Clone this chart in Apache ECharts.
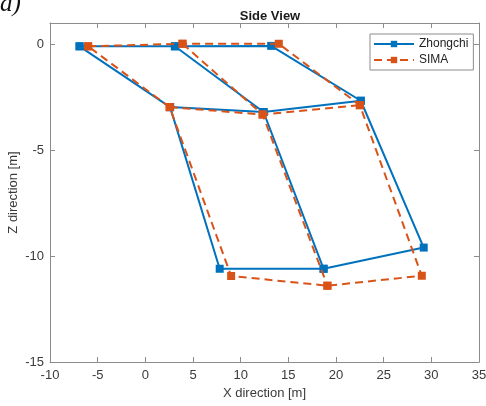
<!DOCTYPE html>
<html>
<head>
<meta charset="utf-8">
<script src="https://cdn.jsdelivr.net/npm/echarts@6/dist/echarts.min.js"></script>
<style>
html,body{margin:0;padding:0;background:#fff;}
#chart{width:486px;height:406px;}
</style>
</head>
<body>
<div id="chart"></div>
<script>
// Node order: TL, TM, TR, ML, MM, MR, BL, BM, BR
const nodeNames = ['TL','TM','TR','ML','MM','MR','BL','BM','BR'];
const zhongchiX = [-6.9, 3.1, 13.2, 2.6, 12.4, 22.6, 7.8, 18.7, 29.2];
const zhongchiZ = [-0.1, -0.1, -0.08, -2.97, -3.2, -2.67, -10.6, -10.6, -9.6];
const simaX = [-6.0, 3.9, 14.0, 2.55, 12.3, 22.5, 9.0, 19.1, 29.0];
const simaZ = [-0.1, 0.02, 0.02, -2.97, -3.32, -2.88, -10.94, -11.4, -10.93];
// Paths through the frame (indices into node arrays)
const paths = [
  [0, 1, 2, 5, 8, 7, 6, 3, 0],
  [1, 4, 7],
  [3, 4, 5]
];
const xTicks = [-10, 35, 5];   // min, max, interval
const zTicks = [-15, 1, 5];

function buildSeries(name, xs, zs, color, dashed) {
  return paths.map(p => ({
    name: name,
    type: 'line',
    data: p.map(i => [xs[i], zs[i]]),
    symbol: 'rect',
    symbolSize: 8,
    showSymbol: true,
    itemStyle: { color: color },
    lineStyle: { color: color, width: 2, type: dashed ? [8, 5] : 'solid' },
    emphasis: { disabled: true },
    animation: false,
    z: dashed ? 3 : 2
  }));
}

const axisColor = '#8c8c8c';
const labelColor = '#3a3a3a';
const font = 'Liberation Sans, Arial, sans-serif';

const chart = echarts.init(document.getElementById('chart'), null, { renderer: 'canvas' });
chart.setOption({
  backgroundColor: '#fff',
  animation: false,
  title: {
    text: 'Side View',
    left: 265, top: 5, textAlign: 'center',
    textStyle: { fontFamily: font, fontSize: 13, fontWeight: 'bold', color: '#1a1a1a' }
  },
  graphic: [{
    type: 'text', left: 0, top: -8,
    style: { text: 'a)', font: 'italic 25px "Liberation Serif", "DejaVu Serif", serif', fill: '#111' }
  }],
  legend: {
    orient: 'vertical',
    left: 370, top: 34,
    padding: [4, 5, 4, 3],
    itemGap: 4,
    itemWidth: 40, itemHeight: 8,
    backgroundColor: '#fff',
    borderColor: '#8c8c8c', borderWidth: 1,
    textStyle: { fontFamily: font, fontSize: 12, color: '#222' },
    data: ['Zhongchi', 'SIMA']
  },
  grid: { left: 50, top: 23, width: 429, height: 339, show: false, containLabel: false, outerBoundsMode: 'none' },
  xAxis: [{
    type: 'value', min: xTicks[0], max: xTicks[1], interval: xTicks[2], position: 'bottom',
    name: 'X direction [m]', nameLocation: 'middle', nameGap: 24,
    nameTextStyle: { fontFamily: font, fontSize: 13, color: labelColor },
    axisLine: { show: true, onZero: false, lineStyle: { color: axisColor } },
    axisTick: { show: true, inside: true, length: 5, lineStyle: { color: axisColor } },
    axisLabel: { fontFamily: font, fontSize: 13, color: labelColor, margin: 7 },
    splitLine: { show: false }
  }, {
    type: 'value', min: xTicks[0], max: xTicks[1], interval: xTicks[2], position: 'top',
    axisLine: { show: true, onZero: false, lineStyle: { color: axisColor } },
    axisTick: { show: true, inside: true, length: 5, lineStyle: { color: axisColor } },
    axisLabel: { show: false }, splitLine: { show: false }
  }],
  yAxis: [{
    type: 'value', min: zTicks[0], max: zTicks[1], interval: zTicks[2], position: 'left',
    name: 'Z direction [m]', nameLocation: 'middle', nameGap: 30, nameRotate: 90,
    nameMoveOverlap: false,
    nameTextStyle: { fontFamily: font, fontSize: 13, color: labelColor },
    axisLine: { show: true, onZero: false, lineStyle: { color: axisColor } },
    axisTick: { show: true, inside: true, length: 5, lineStyle: { color: axisColor } },
    axisLabel: { fontFamily: font, fontSize: 13, color: labelColor, margin: 6, showMaxLabel: false },
    splitLine: { show: false }
  }, {
    type: 'value', min: zTicks[0], max: zTicks[1], interval: zTicks[2], position: 'right',
    axisLine: { show: true, onZero: false, lineStyle: { color: axisColor } },
    axisTick: { show: true, inside: true, length: 5, lineStyle: { color: axisColor } },
    axisLabel: { show: false }, splitLine: { show: false }
  }],
  series: [].concat(
    buildSeries('Zhongchi', zhongchiX, zhongchiZ, '#0072BD', false),
    buildSeries('SIMA', simaX, simaZ, '#D95319', true)
  )
});
</script>
</body>
</html>
